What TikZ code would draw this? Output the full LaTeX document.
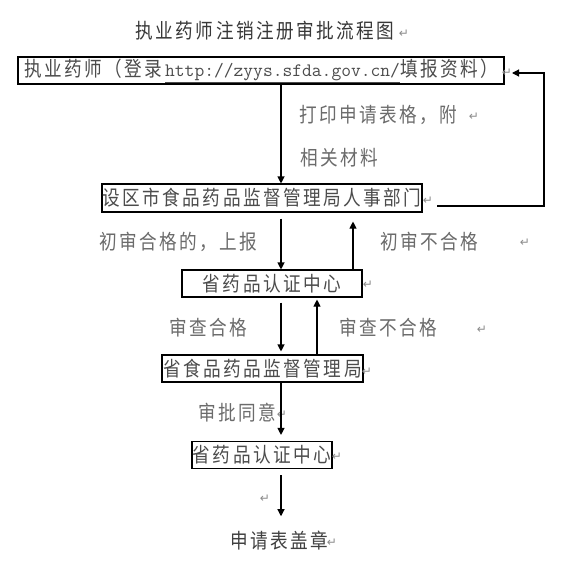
\documentclass[tikz,border=0pt]{standalone}
\usepackage{fontspec}
\usetikzlibrary{arrows.meta}
\newfontfamily\cjk[FakeStretch=0.86,LetterSpace=12]{Noto Sans CJK SC}
\newfontfamily\symf{DejaVu Sans}
\newcommand{\cj}{\cjk\fontsize{20.5}{20.5}\selectfont}
\newcommand{\urlf}{\ttfamily\fontsize{19}{19}\selectfont}
\tikzset{
  box/.style={draw=black, line width=1.1pt, inner sep=0pt, text=black!70, font=\cj, minimum height=27pt},
  lbl/.style={inner sep=0pt, text=black!58, font=\cj},
  retmark/.style={inner sep=0pt, text=black!45, font=\symf\fontsize{12}{12}\selectfont},
  arr/.style={line width=1.1pt, -{Triangle[length=7pt,width=7pt]}},
  plain/.style={line width=1.1pt}
}
\begin{document}
\begin{tikzpicture}[x=1pt,y=-1pt]
\fill[white] (0,0) rectangle (569,570);
\useasboundingbox (0,0) rectangle (569,570);

% title
\node[lbl, text=black!78] (title) at (265,31) {执业药师注销注册审批流程图};
\node[retmark] (r0) at (404,34) {↵};

% boxes
\node[box, minimum width=486pt] (b1) at (261,70.5) {执业药师（登录\hspace{3pt}\underline{\urlf http://zyys.sfda.gov.cn/}填报资料）};
\node[retmark] (r1) at (507,73) {↵};
\node[box, minimum width=320pt, minimum height=28pt] (b2) at (262,198) {设区市食品药品监督管理局人事部门};
\node[retmark] (r2) at (428,201) {↵};
\node[box, minimum width=180pt] (b3) at (272,283.5) {省药品认证中心};
\node[retmark] (r3) at (368,285) {↵};
\node[box, minimum width=201pt] (b4) at (262.5,368.5) {省食品药品监督管理局};
\node[retmark] (r4) at (367,372) {↵};
\node[box, minimum width=140pt] (b5) at (262,455) {省药品认证中心};
\node[retmark] (r5) at (337,457) {↵};

% labels
\node[lbl] (l1a) at (378.5,115) {打印申请表格，附};
\node[retmark] (r6) at (474,117) {↵};
\node[lbl] (l1b) at (339,158) {相关材料};
\node[lbl] (l2a) at (178.5,241.7) {初审合格的，上报};
\node[lbl] (l2b) at (429,241.7) {初审不合格};
\node[retmark] (r7) at (525,243) {↵};
\node[lbl] (l3a) at (208,328) {审查合格};
\node[lbl] (l3b) at (388,328) {审查不合格};
\node[retmark] (r8) at (482,330) {↵};
\node[lbl] (l4) at (237.5,413) {审批同意};
\node[retmark] (r9) at (282,415) {↵};
\node[retmark] (r10) at (265,499) {↵};
\node[lbl, text=black!75] (fin) at (279,541) {申请表盖章};
\node[retmark] (r11) at (332,543) {↵};

% connector columns
\coordinate (sp) at (281,0);
\coordinate (u1) at (353,0);
\coordinate (u2) at (317,0);

\draw[arr] (b1.south -| sp) -- (b2.north -| sp);
\draw[arr, shorten <=6pt] (b2.south -| sp) -- (b3.north -| sp);
\draw[arr, shorten >=9pt] (b3.north -| u1) -- (b2.south -| u1);
\draw[arr, shorten <=5pt, shorten >=3pt] (b3.south -| sp) -- (b4.north -| sp);
\draw[arr, shorten >=2pt] (b4.north -| u2) -- (b3.south -| u2);
\draw[arr, shorten >=6pt] (b4.south -| sp) -- (b5.north -| sp);
\draw[arr, shorten <=6pt, shorten >=15pt] (b5.south -| sp) -- (fin.north -| sp);

% feedback loop
\coordinate (la) at (437,206);
\coordinate (lc) at (544,206);
\coordinate (lb) at (512,73);
\draw[arr] (la) -- (lc) |- (lb);
\end{tikzpicture}
\end{document}
